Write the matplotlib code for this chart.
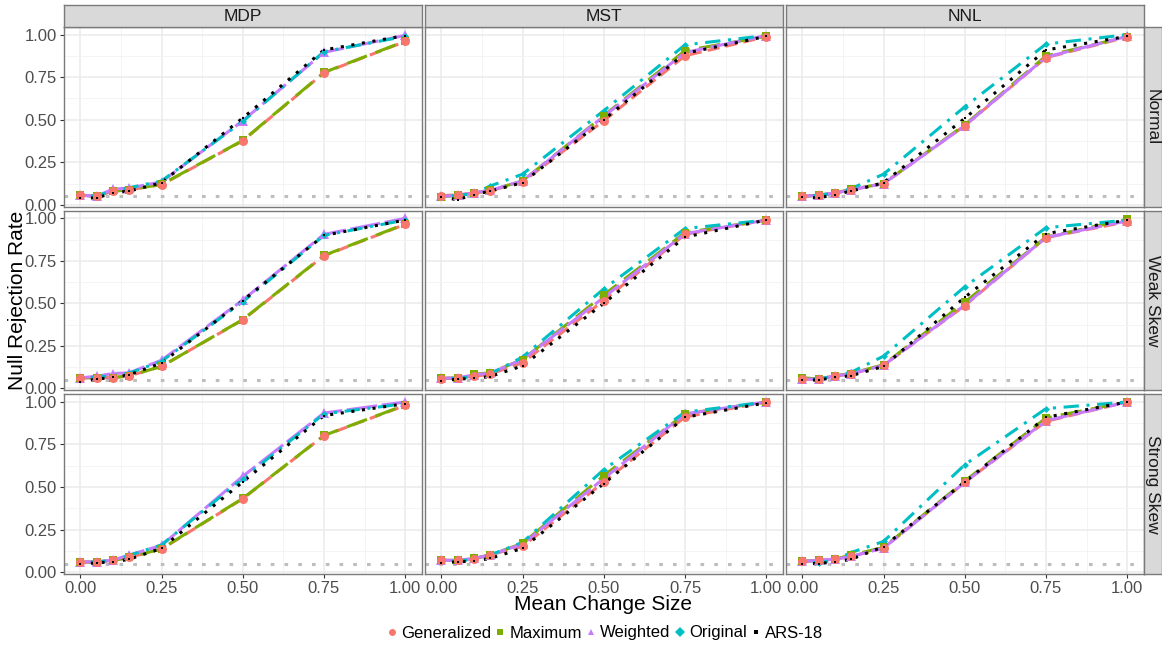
import matplotlib
matplotlib.use("Agg")
import matplotlib.pyplot as plt
from matplotlib.lines import Line2D

plt.rcParams['font.family'] = ['Liberation Sans', 'DejaVu Sans']

# x values: mean change size
shift = [0.00, 0.05, 0.10, 0.15, 0.25, 0.50, 0.75, 1.00]

methods = ["Generalized", "Maximum", "Weighted", "Original", "ARS-18"]
tests = ["MDP", "MST", "NNL"]
dists = ["Normal", "Weak Skew", "Strong Skew"]

# null rejection rates, one table per panel
mdp_normal = {
    "Generalized": [0.057, 0.050, 0.080, 0.088, 0.118, 0.376, 0.776, 0.960],
    "Maximum":     [0.057, 0.050, 0.080, 0.088, 0.120, 0.378, 0.778, 0.962],
    "Weighted":    [0.057, 0.050, 0.092, 0.098, 0.135, 0.494, 0.896, 0.996],
    "Original":    [0.055, 0.050, 0.085, 0.100, 0.140, 0.490, 0.900, 0.990],
    "ARS-18":      [0.040, 0.040, 0.070, 0.080, 0.130, 0.510, 0.910, 0.995],
}
mst_normal = {
    "Generalized": [0.053, 0.059, 0.069, 0.082, 0.135, 0.494, 0.876, 0.988],
    "Maximum":     [0.047, 0.055, 0.070, 0.085, 0.140, 0.524, 0.906, 0.990],
    "Weighted":    [0.050, 0.055, 0.070, 0.085, 0.140, 0.520, 0.895, 0.995],
    "Original":    [0.050, 0.055, 0.065, 0.110, 0.180, 0.553, 0.940, 0.995],
    "ARS-18":      [0.045, 0.030, 0.060, 0.080, 0.130, 0.500, 0.890, 0.990],
}
nnl_normal = {
    "Generalized": [0.049, 0.057, 0.069, 0.088, 0.124, 0.465, 0.865, 0.986],
    "Maximum":     [0.049, 0.057, 0.070, 0.090, 0.125, 0.470, 0.875, 0.988],
    "Weighted":    [0.049, 0.057, 0.069, 0.088, 0.124, 0.465, 0.868, 0.990],
    "Original":    [0.050, 0.055, 0.070, 0.095, 0.180, 0.576, 0.945, 1.000],
    "ARS-18":      [0.045, 0.040, 0.060, 0.080, 0.130, 0.508, 0.910, 0.990],
}
mdp_weak = {
    "Generalized": [0.062, 0.064, 0.064, 0.074, 0.130, 0.403, 0.780, 0.965],
    "Maximum":     [0.062, 0.064, 0.064, 0.074, 0.130, 0.405, 0.782, 0.967],
    "Weighted":    [0.062, 0.072, 0.088, 0.092, 0.166, 0.520, 0.906, 1.000],
    "Original":    [0.062, 0.068, 0.075, 0.090, 0.160, 0.510, 0.900, 0.990],
    "ARS-18":      [0.040, 0.055, 0.065, 0.080, 0.150, 0.517, 0.900, 0.990],
}
mst_weak = {
    "Generalized": [0.058, 0.062, 0.072, 0.084, 0.152, 0.517, 0.906, 0.990],
    "Maximum":     [0.060, 0.062, 0.084, 0.092, 0.170, 0.550, 0.916, 0.990],
    "Weighted":    [0.060, 0.062, 0.080, 0.090, 0.170, 0.535, 0.910, 0.990],
    "Original":    [0.060, 0.060, 0.070, 0.085, 0.185, 0.585, 0.940, 0.990],
    "ARS-18":      [0.045, 0.055, 0.060, 0.070, 0.133, 0.500, 0.890, 0.990],
}
nnl_weak = {
    "Generalized": [0.055, 0.055, 0.074, 0.086, 0.136, 0.487, 0.887, 0.980],
    "Maximum":     [0.064, 0.055, 0.075, 0.088, 0.140, 0.507, 0.890, 0.994],
    "Weighted":    [0.055, 0.055, 0.074, 0.086, 0.136, 0.490, 0.888, 0.985],
    "Original":    [0.060, 0.055, 0.075, 0.095, 0.190, 0.598, 0.945, 0.990],
    "ARS-18":      [0.050, 0.050, 0.065, 0.075, 0.130, 0.536, 0.910, 0.990],
}
mdp_strong = {
    "Generalized": [0.059, 0.059, 0.069, 0.086, 0.135, 0.431, 0.802, 0.980],
    "Maximum":     [0.059, 0.059, 0.069, 0.086, 0.137, 0.433, 0.803, 0.982],
    "Weighted":    [0.059, 0.060, 0.070, 0.100, 0.157, 0.563, 0.935, 1.000],
    "Original":    [0.059, 0.060, 0.070, 0.098, 0.160, 0.550, 0.930, 0.990],
    "ARS-18":      [0.045, 0.055, 0.060, 0.075, 0.140, 0.530, 0.920, 0.990],
}
mst_strong = {
    "Generalized": [0.069, 0.069, 0.078, 0.102, 0.151, 0.529, 0.912, 1.000],
    "Maximum":     [0.069, 0.069, 0.080, 0.100, 0.169, 0.567, 0.930, 1.000],
    "Weighted":    [0.069, 0.069, 0.080, 0.100, 0.165, 0.550, 0.930, 1.000],
    "Original":    [0.065, 0.065, 0.075, 0.100, 0.175, 0.602, 0.940, 1.000],
    "ARS-18":      [0.055, 0.060, 0.065, 0.080, 0.140, 0.520, 0.910, 0.995],
}
nnl_strong = {
    "Generalized": [0.063, 0.069, 0.076, 0.092, 0.141, 0.527, 0.886, 1.000],
    "Maximum":     [0.063, 0.069, 0.076, 0.100, 0.145, 0.535, 0.906, 1.000],
    "Weighted":    [0.063, 0.069, 0.076, 0.092, 0.141, 0.527, 0.890, 1.000],
    "Original":    [0.060, 0.055, 0.070, 0.115, 0.180, 0.631, 0.961, 1.000],
    "ARS-18":      [0.050, 0.050, 0.060, 0.075, 0.150, 0.530, 0.910, 1.000],
}
nominal_level = 0.05

panels = {
    ("Normal", "MDP"): mdp_normal, ("Normal", "MST"): mst_normal, ("Normal", "NNL"): nnl_normal,
    ("Weak Skew", "MDP"): mdp_weak, ("Weak Skew", "MST"): mst_weak, ("Weak Skew", "NNL"): nnl_weak,
    ("Strong Skew", "MDP"): mdp_strong, ("Strong Skew", "MST"): mst_strong, ("Strong Skew", "NNL"): nnl_strong,
}

# ggplot-like styling
colors = {"Generalized": "#F8766D", "Maximum": "#7CAE00", "Weighted": "#C77CFF",
          "Original": "#00BFC4", "ARS-18": "black"}
markers = {"Generalized": "o", "Maximum": "s", "Weighted": "^", "Original": "D", "ARS-18": "s"}
msizes = {"Generalized": 6.5, "Maximum": 5.5, "Weighted": 7.5, "Original": 3.5, "ARS-18": 1.8}
styles = {"Generalized": (0, (4, 2)), "Maximum": (0, (7, 3)), "Weighted": (0, (10, 1.5)),
          "Original": (0, (1, 2.5, 5, 2.5)), "ARS-18": (0, (1, 2.5))}
line_z = {"Generalized": 2.0, "Maximum": 2.1, "Weighted": 2.2, "Original": 2.3, "ARS-18": 2.4}
point_z = {"Weighted": 3.0, "Original": 3.1, "Maximum": 3.2, "Generalized": 3.3, "ARS-18": 3.4}

W, H = 1162, 646
fig = plt.figure(figsize=(W / 100, H / 100), dpi=100)

col_left = [64, 425, 786]
row_top = [27, 210.7, 394.3]
pw, ph = 357.5, 179.5
border = "#7a7a7a"

for r, dist in enumerate(dists):
    for c, test in enumerate(tests):
        ax = fig.add_axes([col_left[c] / W, 1 - (row_top[r] + ph) / H, pw / W, ph / H])
        data = panels[(dist, test)]
        for m in methods:
            ax.plot(shift, data[m], color=colors[m], lw=2.2, linestyle=styles[m],
                    zorder=line_z[m], solid_capstyle="butt")
            ax.plot(shift, data[m], linestyle="none", marker=markers[m], ms=msizes[m],
                    color=colors[m], markeredgewidth=0, zorder=point_z[m])
        ax.axhline(nominal_level, color="#BEBEBE", lw=2.2, linestyle=(0, (1.2, 3.3)), zorder=1.5)
        ax.set_xlim(-0.05, 1.05)
        ax.set_ylim(-0.01, 1.045)
        ax.set_xticks([0, 0.25, 0.5, 0.75, 1.0])
        ax.set_yticks([0, 0.25, 0.5, 0.75, 1.0])
        ax.set_xticks([0.125, 0.375, 0.625, 0.875], minor=True)
        ax.set_yticks([0.125, 0.375, 0.625, 0.875], minor=True)
        ax.grid(True, which="major", color="#EBEBEB", lw=1.1, zorder=0)
        ax.grid(True, which="minor", color="#F2F2F2", lw=0.6, zorder=0)
        ax.set_axisbelow(True)
        for s in ax.spines.values():
            s.set_color(border)
            s.set_linewidth(1.0)
        ax.tick_params(which="minor", length=0)
        ax.tick_params(which="major", length=3, width=0.8, color="#333333",
                       labelsize=12, labelcolor="#4D4D4D", pad=2)
        if c == 0:
            ax.set_yticklabels(["0.00", "0.25", "0.50", "0.75", "1.00"])
        else:
            ax.tick_params(axis="y", length=0, labelleft=False)
        if r == 2:
            ax.set_xticklabels(["0.00", "0.25", "0.50", "0.75", "1.00"])
        else:
            ax.tick_params(axis="x", length=0, labelbottom=False)

        # column strips on top
        if r == 0:
            sx = fig.add_axes([col_left[c] / W, 1 - row_top[0] / H, pw / W, 22.5 / H])
            sx.set_facecolor("#D9D9D9")
            sx.set_xticks([]); sx.set_yticks([])
            for s in sx.spines.values():
                s.set_color(border)
                s.set_linewidth(1.0)
            sx.text(0.5, 0.45, test, ha="center", va="center", fontsize=12.5,
                    color="#1A1A1A", transform=sx.transAxes)
        # row strips on the right
        if c == 2:
            sy = fig.add_axes([(col_left[2] + pw) / W, 1 - (row_top[r] + ph) / H, 18 / W, ph / H])
            sy.set_facecolor("#D9D9D9")
            sy.set_xticks([]); sy.set_yticks([])
            for s in sy.spines.values():
                s.set_color(border)
                s.set_linewidth(1.0)
            sy.text(0.5, 0.5, dist, ha="center", va="center", fontsize=12.5, rotation=-90,
                    color="#1A1A1A", transform=sy.transAxes)

fig.text(603.5 / W, 1 - 604 / H, "Mean Change Size", ha="center", va="center", fontsize=15)
fig.text(18 / W, 1 - 300 / H, "Null Rejection Rate", ha="center", va="center",
         rotation=90, fontsize=15)

handles = [Line2D([], [], linestyle="none", marker=markers[m], color=colors[m],
                  ms=(3 if m == "ARS-18" else 5), markeredgewidth=0) for m in methods]
fig.legend(handles, methods, loc="center", bbox_to_anchor=(605 / W, 1 - 633 / H), ncol=5,
           frameon=False, fontsize=12, handlelength=0.6, handletextpad=0.25,
           columnspacing=0.25, borderaxespad=0)

fig.savefig("out.png", dpi=100)
